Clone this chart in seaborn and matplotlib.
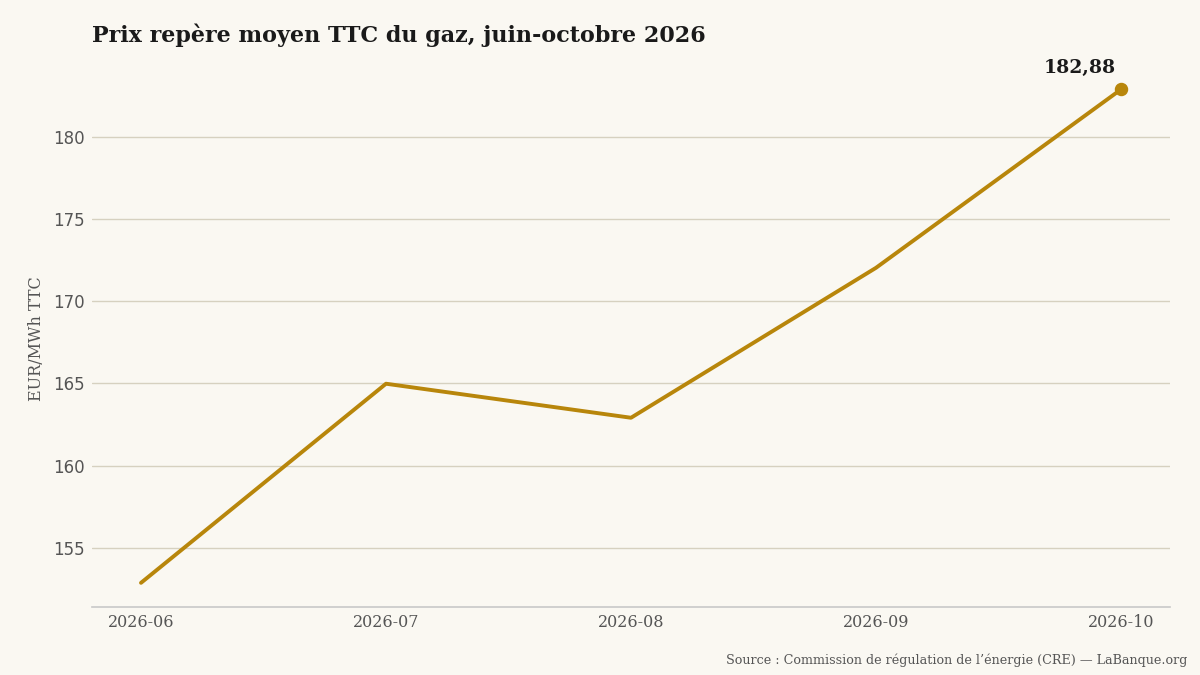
import matplotlib
matplotlib.use("Agg")
import matplotlib.pyplot as plt
import pandas as pd
import seaborn as sns

months = ["2026-06", "2026-07", "2026-08", "2026-09", "2026-10"]
prix = [152.87, 164.98, 162.91, 172.03, 182.88]
yticks = [155, 160, 165, 170, 175, 180]

BG = "#FAF8F2"
GOLD = "#B8860B"
GRID = "#D6D1C0"
SERIF = ["DejaVu Serif"]

sns.set_style("white", rc={"axes.facecolor": BG, "figure.facecolor": BG})

fig = plt.figure(figsize=(12, 6.75), dpi=100)
ax = fig.add_axes([92 / 1200, 1 - 607 / 675, (1170 - 92) / 1200, (607 - 71) / 675])

df = pd.DataFrame({"x": range(len(months)), "prix": prix})
sns.lineplot(data=df, x="x", y="prix", color=GOLD, linewidth=2.8, ax=ax)
ax.scatter([df["x"].iloc[-1]], [prix[-1]], s=75, color=GOLD, zorder=5, clip_on=False)
ax.text(df["x"].iloc[-1] - 0.17, prix[-1] + 0.75, f"{prix[-1]:.2f}".replace(".", ","),
        ha="center", va="bottom", fontsize=13.5, fontweight="bold", family=SERIF,
        color="#1a1a1a", clip_on=False)

ax.set_xlim(-0.2, 4.2)
ax.set_ylim(151.4, 184.0)
ax.set_xticks(range(len(months)))
ax.set_xticklabels(months, family=SERIF, fontsize=11.5, color="#555555")
ax.set_yticks(yticks)
ax.set_yticklabels([str(t) for t in yticks], family=["DejaVu Sans"], fontsize=12, color="#555555")
ax.tick_params(axis="x", length=0, pad=5)
ax.tick_params(axis="y", length=0, pad=5)
ax.yaxis.grid(True, color=GRID, linewidth=1)
ax.xaxis.grid(False)
for s in ["top", "right", "left"]:
    ax.spines[s].set_visible(False)
ax.spines["bottom"].set_color("#C8C8C8")
ax.spines["bottom"].set_linewidth(1.2)
ax.set_xlabel("")
ax.set_ylabel("EUR/MWh TTC", family=SERIF, fontsize=11.5, color="#555555", labelpad=6)

fig.text(92 / 1200, 1 - 35 / 675, "Prix repère moyen TTC du gaz, juin-octobre 2026",
         family=SERIF, fontweight="bold", fontsize=16, color="#1a1a1a", va="center", ha="left")
fig.text(1187 / 1200, 1 - 660 / 675,
         "Source : Commission de régulation de l’énergie (CRE) — LaBanque.org",
         family=SERIF, fontsize=9.2, color="#555555", ha="right", va="center")

fig.savefig("out.png", dpi=100, facecolor=BG)
